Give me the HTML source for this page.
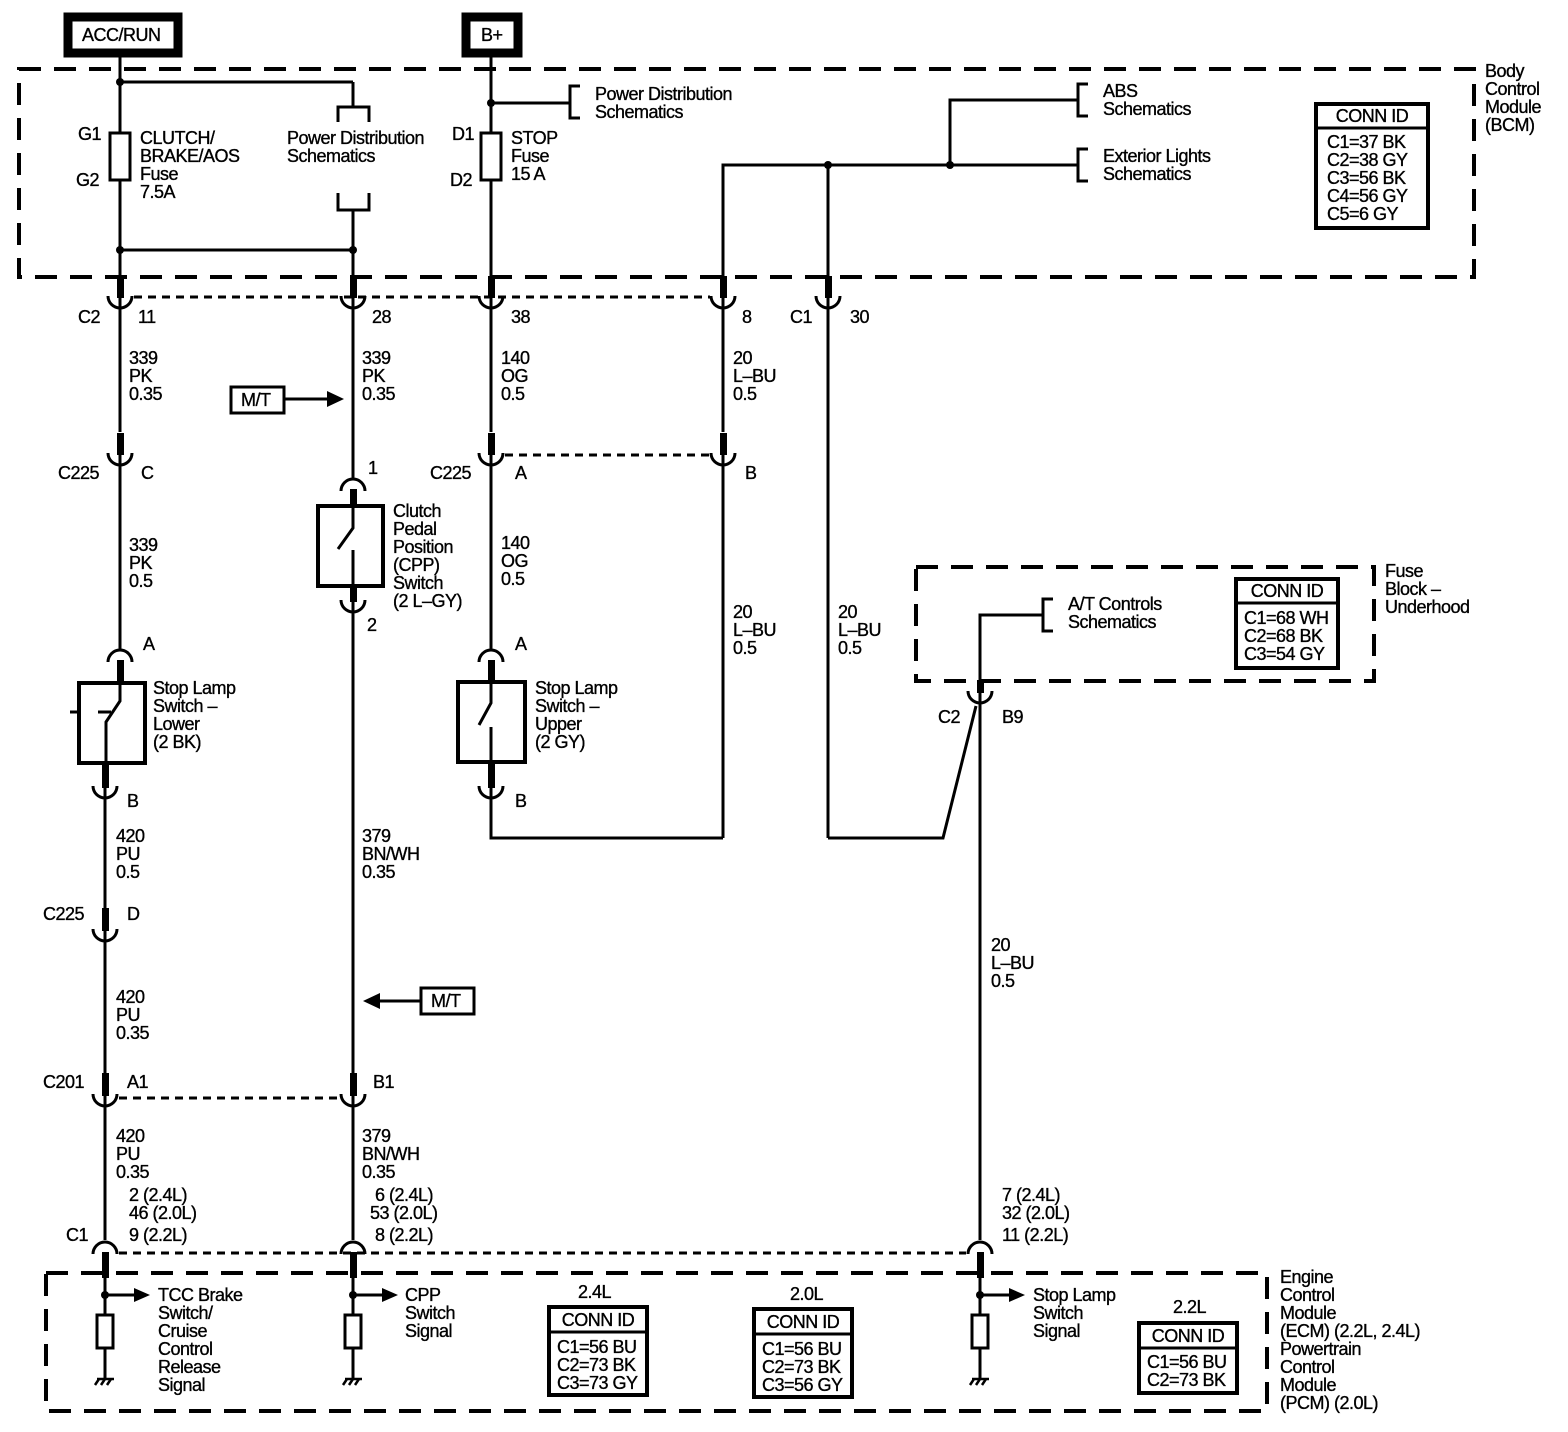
<!DOCTYPE html>
<html><head><meta charset="utf-8"><style>
html,body{margin:0;padding:0;background:#fff;}
svg{display:block;}
text{font-family:"Liberation Sans",Arial,sans-serif;font-size:18px;fill:#000;stroke:#000;stroke-width:0.35px;letter-spacing:-0.5px;}
</style></head><body>
<svg width="1568" height="1432" viewBox="0 0 1568 1432" xmlns="http://www.w3.org/2000/svg">
<g fill="none" stroke="#000">
<rect x="19" y="69" width="1455" height="208" stroke-width="4" stroke-dasharray="22,13"/>
<rect x="916" y="567" width="458" height="114" stroke-width="4" stroke-dasharray="22,13"/>
<rect x="46" y="1273" width="1221" height="138" stroke-width="4" stroke-dasharray="22,13"/>
<rect x="68" y="17" width="110" height="36" stroke-width="9"/>
<rect x="466" y="17" width="52" height="36" stroke-width="9"/>
<g stroke-width="3" stroke-dasharray="8,6">
<line x1="134" y1="297" x2="710" y2="297"/>
<line x1="505" y1="455" x2="710" y2="455"/>
<line x1="119" y1="1098" x2="340" y2="1098"/>
<line x1="119" y1="1253" x2="966" y2="1253"/>
</g>
<g stroke-width="3">
<line x1="120" y1="53" x2="120" y2="278"/>
<line x1="120" y1="82" x2="353" y2="82"/>
<line x1="353" y1="82" x2="353" y2="107"/>
<path d="M338 122 V107 H369 V122"/>
<path d="M338 193 V210 H369 V193"/>
<line x1="353" y1="210" x2="353" y2="278"/>
<line x1="120" y1="250" x2="353" y2="250"/>
<rect x="110" y="133" width="20" height="47" fill="#fff"/>
<line x1="491" y1="53" x2="491" y2="278"/>
<line x1="491" y1="103" x2="570" y2="103"/>
<path d="M580 86 H570 V118 H580"/>
<rect x="481" y="133" width="20" height="47" fill="#fff"/>
<path d="M723 278 V165 H1078"/>
<path d="M950 165 V100 H1078"/>
<path d="M1088 84 H1078 V116 H1088"/>
<path d="M1088 149 H1078 V181 H1088"/>
<line x1="828" y1="165" x2="828" y2="278"/>
<rect x="1316" y="104" width="112" height="124" stroke-width="4"/>
<line x1="1316" y1="128" x2="1428" y2="128"/>
<line x1="120" y1="298" x2="120" y2="432"/>
<line x1="353" y1="298" x2="353" y2="478"/>
<line x1="491" y1="298" x2="491" y2="432"/>
<line x1="723" y1="298" x2="723" y2="432"/>
<line x1="828" y1="298" x2="828" y2="838"/>
<line x1="120" y1="454" x2="120" y2="650"/>
<line x1="491" y1="454" x2="491" y2="650"/>
<line x1="723" y1="454" x2="723" y2="838"/>
<line x1="353" y1="600" x2="353" y2="1073"/>
<path d="M491 787 V838 H723"/>
<path d="M828 838 H943 L976 706"/>
<line x1="105" y1="787" x2="105" y2="908"/>
<line x1="105" y1="930" x2="105" y2="1073"/>
<line x1="105" y1="1095" x2="105" y2="1240"/>
<line x1="353" y1="1095" x2="353" y2="1240"/>
<line x1="980" y1="692" x2="980" y2="1240"/>
<path d="M980 680 V615 H1043"/>
<path d="M1053 599 H1043 V631 H1053"/>
<rect x="1236" y="579" width="102" height="89" stroke-width="4"/>
<line x1="1236" y1="603" x2="1338" y2="603"/>
<rect x="79" y="683" width="66" height="80" stroke-width="4"/>
<path d="M120 683 V701 L106 722 V763"/>
<line x1="70" y1="712" x2="80" y2="712"/>
<line x1="98" y1="712" x2="111" y2="712"/>
<rect x="318" y="506" width="65" height="80" stroke-width="4"/>
<path d="M353 506 V528 L338 549"/>
<line x1="353" y1="550" x2="353" y2="586"/>
<rect x="458" y="682" width="67" height="80" stroke-width="4"/>
<path d="M491 682 V703 L479 725"/>
<line x1="491" y1="727" x2="491" y2="762"/>
<rect x="231" y="387" width="53" height="26"/>
<line x1="284" y1="399" x2="330" y2="399"/>
<rect x="421" y="988" width="53" height="26"/>
<line x1="421" y1="1001" x2="376" y2="1001"/>
<line x1="105" y1="1262" x2="105" y2="1378"/>
<line x1="353" y1="1262" x2="353" y2="1378"/>
<line x1="980" y1="1262" x2="980" y2="1378"/>
<line x1="105" y1="1295" x2="138" y2="1295"/>
<line x1="353" y1="1295" x2="386" y2="1295"/>
<line x1="980" y1="1295" x2="1013" y2="1295"/>
<rect x="97" y="1315" width="16" height="33" fill="#fff"/>
<rect x="345" y="1315" width="16" height="33" fill="#fff"/>
<rect x="972" y="1315" width="16" height="33" fill="#fff"/>
<rect x="549" y="1307" width="98" height="88" stroke-width="4"/>
<line x1="549" y1="1332" x2="647" y2="1332"/>
<rect x="754" y="1309" width="98" height="88" stroke-width="4"/>
<line x1="754" y1="1334" x2="852" y2="1334"/>
<rect x="1139" y="1323" width="98" height="70" stroke-width="4"/>
<line x1="1139" y1="1348" x2="1237" y2="1348"/>
</g>
<g stroke-width="2.5">
<path d="M97 1379 H114 M99 1379 L95 1385 M105 1379 L101 1385 M111 1379 L107 1385"/>
<path d="M345 1379 H362 M347 1379 L343 1385 M353 1379 L349 1385 M359 1379 L355 1385"/>
<path d="M972 1379 H989 M974 1379 L970 1385 M980 1379 L976 1385 M986 1379 L982 1385"/>
</g>
<g stroke-width="3">
<path d="M108 296 A12 12 0 0 0 132 296"/><path d="M341 296 A12 12 0 0 0 365 296"/>
<path d="M479 296 A12 12 0 0 0 503 296"/><path d="M711 296 A12 12 0 0 0 735 296"/>
<path d="M816 296 A12 12 0 0 0 840 296"/>
<path d="M108 453 A12 12 0 0 0 132 453"/><path d="M479 453 A12 12 0 0 0 503 453"/><path d="M711 453 A12 12 0 0 0 735 453"/>
<path d="M341 600 A12 12 0 0 0 365 600"/>
<path d="M93 786 A12 12 0 0 0 117 786"/><path d="M479 786 A12 12 0 0 0 503 786"/>
<path d="M93 929 A12 12 0 0 0 117 929"/>
<path d="M93 1094 A12 12 0 0 0 117 1094"/><path d="M341 1094 A12 12 0 0 0 365 1094"/>
<path d="M968 691 A12 12 0 0 0 992 691"/>
<path d="M341 491 A12 12 0 0 1 365 491"/>
<path d="M108 662 A12 12 0 0 1 132 662"/><path d="M479 662 A12 12 0 0 1 503 662"/>
<path d="M93 1254 A12 12 0 0 1 117 1254"/><path d="M341 1254 A12 12 0 0 1 365 1254"/><path d="M968 1254 A12 12 0 0 1 992 1254"/>
</g>
</g>
<g fill="#000">
<rect x="117" y="276" width="7" height="22"/><rect x="350" y="276" width="7" height="22"/>
<rect x="488" y="276" width="7" height="22"/><rect x="720" y="276" width="7" height="22"/>
<rect x="825" y="276" width="7" height="22"/>
<rect x="117" y="433" width="7" height="22"/><rect x="488" y="433" width="7" height="22"/><rect x="720" y="433" width="7" height="22"/>
<rect x="350" y="586" width="7" height="16"/>
<rect x="102" y="763" width="7" height="25"/><rect x="488" y="762" width="7" height="26"/>
<rect x="102" y="908" width="7" height="23"/>
<rect x="102" y="1073" width="7" height="23"/><rect x="350" y="1073" width="7" height="23"/>
<rect x="977" y="680" width="7" height="13"/>
<rect x="350" y="489" width="7" height="17"/>
<rect x="117" y="660" width="7" height="23"/><rect x="488" y="660" width="7" height="23"/>
<rect x="102" y="1252" width="7" height="26"/><rect x="350" y="1252" width="7" height="26"/><rect x="977" y="1252" width="7" height="26"/>
<circle cx="120" cy="82" r="4"/><circle cx="120" cy="250" r="4"/><circle cx="353" cy="250" r="4"/>
<circle cx="491" cy="103" r="4"/><circle cx="828" cy="165" r="4"/><circle cx="950" cy="165" r="4"/>
<circle cx="105" cy="1295" r="4"/><circle cx="353" cy="1295" r="4"/><circle cx="980" cy="1295" r="4"/>
<polygon points="327,391 344,399 327,407"/>
<polygon points="380,993 363,1001 380,1009"/>
<polygon points="134,1288 150,1295 134,1302"/>
<polygon points="382,1288 398,1295 382,1302"/>
<polygon points="1009,1288 1025,1295 1009,1302"/>
</g>
<text x="82" y="41">ACC/RUN</text>
<text x="481" y="41">B+</text>
<text x="78" y="140">G1</text><text x="76" y="186">G2</text>
<text x="140" y="144">CLUTCH/</text><text x="140" y="162">BRAKE/AOS</text><text x="140" y="180">Fuse</text><text x="140" y="198">7.5A</text>
<text x="287" y="144">Power Distribution</text><text x="287" y="162">Schematics</text>
<text x="452" y="140">D1</text><text x="450" y="186">D2</text>
<text x="511" y="144">STOP</text><text x="511" y="162">Fuse</text><text x="511" y="180">15 A</text>
<text x="595" y="100">Power Distribution</text><text x="595" y="118">Schematics</text>
<text x="1103" y="97">ABS</text><text x="1103" y="115">Schematics</text>
<text x="1103" y="162">Exterior Lights</text><text x="1103" y="180">Schematics</text>
<text x="1372" y="122" text-anchor="middle">CONN ID</text>
<text x="1327" y="148">C1=37 BK</text><text x="1327" y="166">C2=38 GY</text><text x="1327" y="184">C3=56 BK</text><text x="1327" y="202">C4=56 GY</text><text x="1327" y="220">C5=6 GY</text>
<text x="1485" y="77">Body</text><text x="1485" y="95">Control</text><text x="1485" y="113">Module</text><text x="1485" y="131">(BCM)</text>
<text x="78" y="323">C2</text><text x="138" y="323">11</text><text x="372" y="323">28</text><text x="511" y="323">38</text><text x="742" y="323">8</text><text x="790" y="323">C1</text><text x="850" y="323">30</text>
<text x="129" y="364">339</text><text x="129" y="382">PK</text><text x="129" y="400">0.35</text>
<text x="362" y="364">339</text><text x="362" y="382">PK</text><text x="362" y="400">0.35</text>
<text x="501" y="364">140</text><text x="501" y="382">OG</text><text x="501" y="400">0.5</text>
<text x="733" y="364">20</text><text x="733" y="382">L–BU</text><text x="733" y="400">0.5</text>
<text x="241" y="406">M/T</text>
<text x="58" y="479">C225</text><text x="141" y="479">C</text><text x="368" y="474">1</text>
<text x="430" y="479">C225</text><text x="515" y="479">A</text><text x="745" y="479">B</text>
<text x="129" y="551">339</text><text x="129" y="569">PK</text><text x="129" y="587">0.5</text>
<text x="393" y="517">Clutch</text><text x="393" y="535">Pedal</text><text x="393" y="553">Position</text><text x="393" y="571">(CPP)</text><text x="393" y="589">Switch</text><text x="393" y="607">(2 L–GY)</text>
<text x="367" y="631">2</text>
<text x="501" y="549">140</text><text x="501" y="567">OG</text><text x="501" y="585">0.5</text>
<text x="733" y="618">20</text><text x="733" y="636">L–BU</text><text x="733" y="654">0.5</text>
<text x="838" y="618">20</text><text x="838" y="636">L–BU</text><text x="838" y="654">0.5</text>
<text x="143" y="650">A</text><text x="515" y="650">A</text>
<text x="153" y="694">Stop Lamp</text><text x="153" y="712">Switch –</text><text x="153" y="730">Lower</text><text x="153" y="748">(2 BK)</text>
<text x="535" y="694">Stop Lamp</text><text x="535" y="712">Switch –</text><text x="535" y="730">Upper</text><text x="535" y="748">(2 GY)</text>
<text x="1385" y="577">Fuse</text><text x="1385" y="595">Block –</text><text x="1385" y="613">Underhood</text>
<text x="1068" y="610">A/T Controls</text><text x="1068" y="628">Schematics</text>
<text x="1287" y="597" text-anchor="middle">CONN ID</text>
<text x="1244" y="624">C1=68 WH</text><text x="1244" y="642">C2=68 BK</text><text x="1244" y="660">C3=54 GY</text>
<text x="938" y="723">C2</text><text x="1002" y="723">B9</text>
<text x="127" y="807">B</text><text x="515" y="807">B</text>
<text x="116" y="842">420</text><text x="116" y="860">PU</text><text x="116" y="878">0.5</text>
<text x="362" y="842">379</text><text x="362" y="860">BN/WH</text><text x="362" y="878">0.35</text>
<text x="43" y="920">C225</text><text x="127" y="920">D</text>
<text x="991" y="951">20</text><text x="991" y="969">L–BU</text><text x="991" y="987">0.5</text>
<text x="116" y="1003">420</text><text x="116" y="1021">PU</text><text x="116" y="1039">0.35</text>
<text x="431" y="1007">M/T</text>
<text x="43" y="1088">C201</text><text x="127" y="1088">A1</text><text x="373" y="1088">B1</text>
<text x="116" y="1142">420</text><text x="116" y="1160">PU</text><text x="116" y="1178">0.35</text>
<text x="362" y="1142">379</text><text x="362" y="1160">BN/WH</text><text x="362" y="1178">0.35</text>
<text x="129" y="1201">2 (2.4L)</text><text x="129" y="1219">46 (2.0L)</text><text x="129" y="1241">9 (2.2L)</text>
<text x="66" y="1241">C1</text>
<text x="375" y="1201">6 (2.4L)</text><text x="370" y="1219">53 (2.0L)</text><text x="375" y="1241">8 (2.2L)</text>
<text x="1002" y="1201">7 (2.4L)</text><text x="1002" y="1219">32 (2.0L)</text><text x="1002" y="1241">11 (2.2L)</text>
<text x="158" y="1301">TCC Brake</text><text x="158" y="1319">Switch/</text><text x="158" y="1337">Cruise</text><text x="158" y="1355">Control</text><text x="158" y="1373">Release</text><text x="158" y="1391">Signal</text>
<text x="405" y="1301">CPP</text><text x="405" y="1319">Switch</text><text x="405" y="1337">Signal</text>
<text x="1033" y="1301">Stop Lamp</text><text x="1033" y="1319">Switch</text><text x="1033" y="1337">Signal</text>
<text x="578" y="1298">2.4L</text><text x="790" y="1300">2.0L</text><text x="1173" y="1313">2.2L</text>
<text x="598" y="1326" text-anchor="middle">CONN ID</text>
<text x="557" y="1353">C1=56 BU</text><text x="557" y="1371">C2=73 BK</text><text x="557" y="1389">C3=73 GY</text>
<text x="803" y="1328" text-anchor="middle">CONN ID</text>
<text x="762" y="1355">C1=56 BU</text><text x="762" y="1373">C2=73 BK</text><text x="762" y="1391">C3=56 GY</text>
<text x="1188" y="1342" text-anchor="middle">CONN ID</text>
<text x="1147" y="1368">C1=56 BU</text><text x="1147" y="1386">C2=73 BK</text>
<text x="1280" y="1283">Engine</text><text x="1280" y="1301">Control</text><text x="1280" y="1319">Module</text><text x="1280" y="1337">(ECM) (2.2L, 2.4L)</text>
<text x="1280" y="1355">Powertrain</text><text x="1280" y="1373">Control</text><text x="1280" y="1391">Module</text><text x="1280" y="1409">(PCM) (2.0L)</text>
</svg>
</body></html>
